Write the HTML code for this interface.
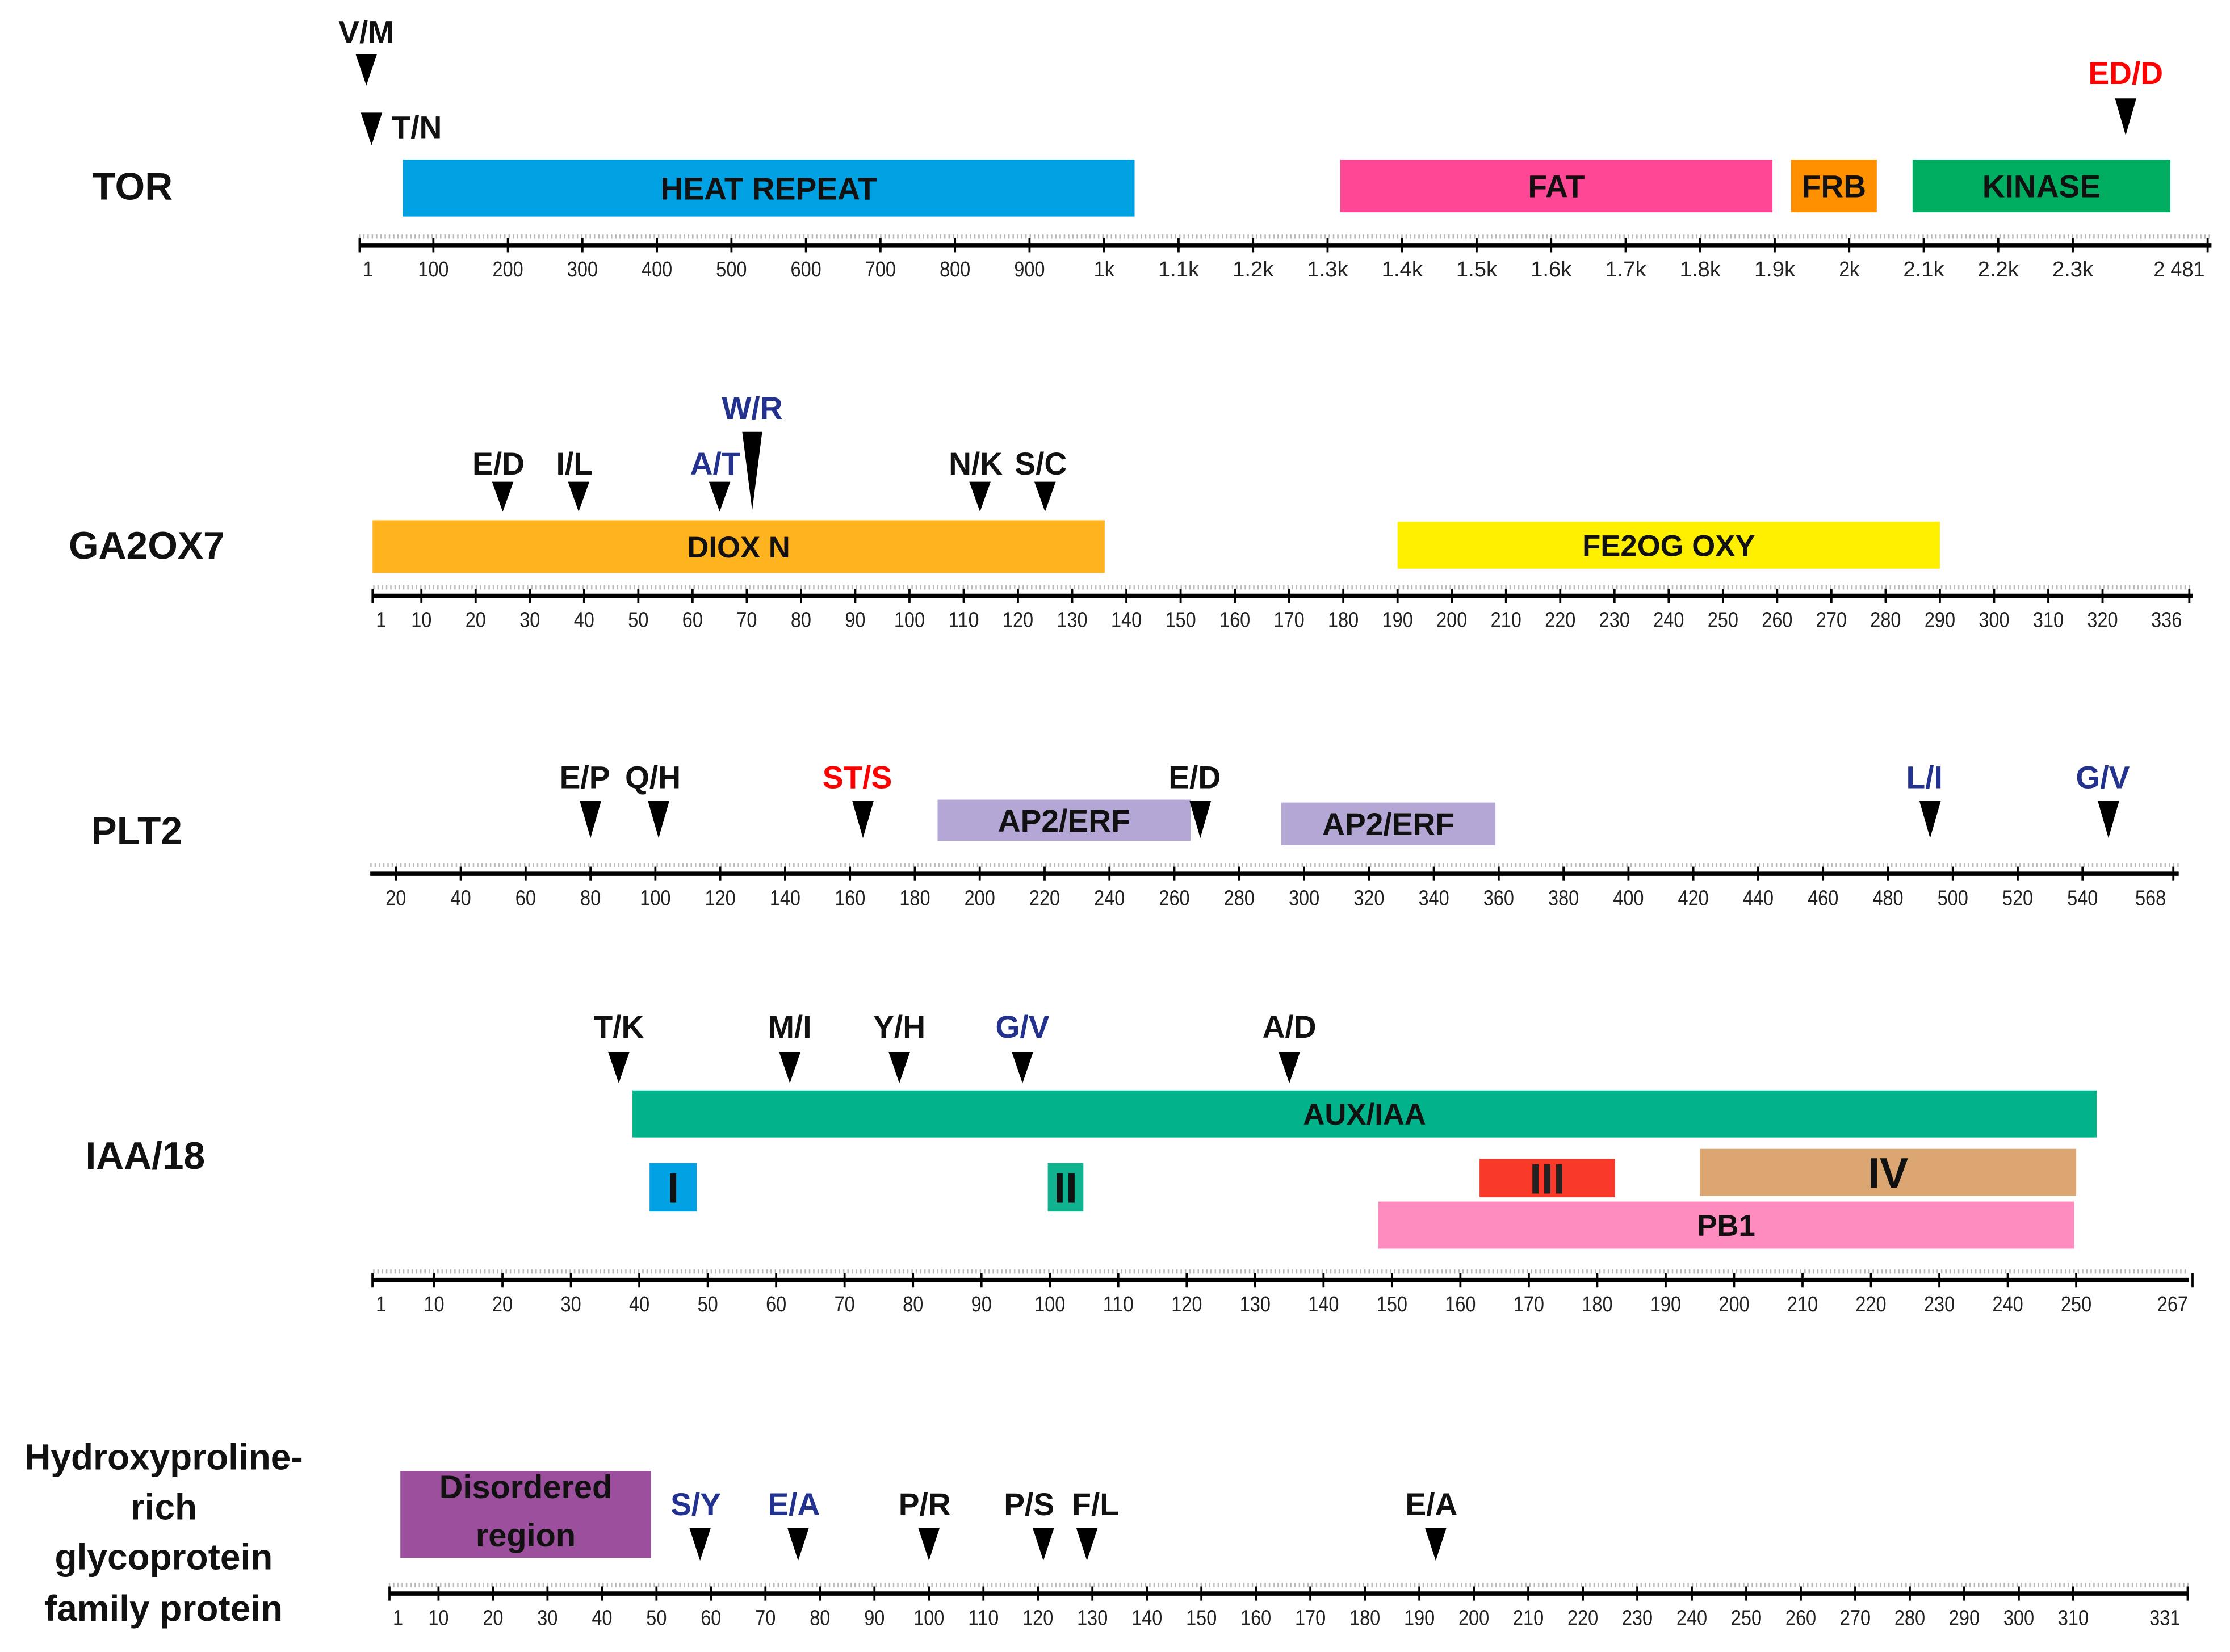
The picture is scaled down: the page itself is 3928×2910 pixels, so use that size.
<!DOCTYPE html>
<html><head><meta charset="utf-8"><style>
html,body{margin:0;padding:0;background:#fff}
svg{display:block}
text{font-family:"Liberation Sans",sans-serif}
</style></head><body>
<svg id="chart" width="3928" height="2910" viewBox="0 0 1566 1159" preserveAspectRatio="none" xmlns="http://www.w3.org/2000/svg">
<rect width="1566" height="1159" fill="#fff"/>
<g id="labels" font-weight="bold" font-size="27" fill="#111" text-anchor="middle">
<text x="93" y="140">TOR</text>
<text x="103" y="392">GA2OX7</text>
<text x="96" y="592">PLT2</text>
<text x="102" y="820">IAA/18</text>
<g font-size="25.5">
<text x="115" y="1031">Hydroxyproline-</text>
<text x="115" y="1066">rich</text>
<text x="115" y="1101">glycoprotein</text>
<text x="115" y="1137">family protein</text>
</g>
</g>
</svg>
<script>
// ---- data ----
const torTicks=[1,100,200,300,400,500,600,700,800,900,1000,1100,1200,1300,1400,1500,1600,1700,1800,1900,2000,2100,2200,2300,2481];
const torTickLabels=["1","100","200","300","400","500","600","700","800","900","1k","1.1k","1.2k","1.3k","1.4k","1.5k","1.6k","1.7k","1.8k","1.9k","2k","2.1k","2.2k","2.3k","2 481"];
const torDomainNames=["HEAT REPEAT","FAT","FRB","KINASE"];
const torDomainStart=[59,1317,1922,2085];
const torDomainEnd=[1041,1897,2037,2431];
const torMutNames=["V/M","T/N","ED/D"];
const torMutPos=[10,17,2371];

const gaTicks=[1,10,20,30,40,50,60,70,80,90,100,110,120,130,140,150,160,170,180,190,200,210,220,230,240,250,260,270,280,290,300,310,320,336];
const gaDomainNames=["DIOX N","FE2OG OXY"];
const gaDomainStart=[1,190];
const gaDomainEnd=[136,290];
const gaMutNames=["E/D","I/L","A/T","W/R","N/K","S/C"];
const gaMutPos=[25,39,65,71,113,125];

const pltTicks=[20,40,60,80,100,120,140,160,180,200,220,240,260,280,300,320,340,360,380,400,420,440,460,480,500,520,540,568];
const pltDomainNames=["AP2/ERF","AP2/ERF"];
const pltDomainStart=[187,293];
const pltDomainEnd=[265,359];
const pltMutNames=["E/P","Q/H","ST/S","E/D","L/I","G/V"];
const pltMutPos=[80,101,164,268,493,548];

const iaaTicks=[1,10,20,30,40,50,60,70,80,90,100,110,120,130,140,150,160,170,180,190,200,210,220,230,240,250,267];
const iaaDomainNames=["AUX/IAA","I","II","III","IV","PB1"];
const iaaDomainStart=[39,41.5,99.7,162.8,195,148];
const iaaDomainEnd=[253,48.4,104.9,182.6,250,249.7];
const iaaMutNames=["T/K","M/I","Y/H","G/V","A/D"];
const iaaMutPos=[37,62,78,96,135];

const hrTicks=[1,10,20,30,40,50,60,70,80,90,100,110,120,130,140,150,160,170,180,190,200,210,220,230,240,250,260,270,280,290,300,310,331];
const hrDomainNames=["Disordered region"];
const hrDomainStart=[3];
const hrDomainEnd=[49];
const hrMutNames=["S/Y","E/A","P/R","P/S","F/L","E/A"];
const hrMutPos=[58,76,100,121,129,193];

// ---- layout (styles / geometry) ----
const NS="http://www.w3.org/2000/svg";
const svg=document.getElementById('chart');
function el(tag,attrs,parent){const e=document.createElementNS(NS,tag);for(const k in attrs)e.setAttribute(k,attrs[k]);(parent||svg).appendChild(e);return e;}
function lin(d0,d1,r0,r1){return v=>r0+(v-d0)*(r1-r0)/(d1-d0);}

function drawAxis(g,x,ticks,labels,y,x0,x1,lastShift){
  const line=el('line',{x1:x0,x2:x1,y1:y,y2:y,stroke:'#000','stroke-width':3},g);
  
  
  const dots=el('line',{x1:x0,x2:x1,y1:y-6,y2:y-6,stroke:'#bbb','stroke-width':3,'stroke-dasharray':'1 2'},g);
  
  
  ticks.forEach((t,i)=>{
    const px=x(t);
    el('line',{x1:px,x2:px,y1:y-5,y2:y+5,stroke:'#000','stroke-width':1.5},g);
    const last=i===ticks.length-1;
    const tx=el('text',{x:last?px-lastShift:px+(t===1?6:0),y:y+22,'font-size':15,'text-anchor':'middle',fill:'#222',textLength:(labels?labels[i]:String(t)).length*7.2,lengthAdjust:'spacingAndGlyphs'},g);
    tx.textContent=labels?labels[i]:String(t);
    
    
  });
}
function drawDomain(g,x,s,e,y0,y1,fill,name,fs,tcol){
  const r=el('rect',{x:x(s),y:y0,width:x(e)-x(s),height:y1-y0,fill:fill},g);
  
  
  if(name.indexOf('\n')>=0){
    name.split('\n').forEach((ln,i)=>{const t=el('text',{x:(x(s)+x(e))/2,y:y0+19+i*34,'font-size':fs,'font-weight':'bold','text-anchor':'middle',fill:tcol||'#111'},g);t.textContent=ln;});
  } else {
    const t=el('text',{x:(x(s)+x(e))/2,y:(y0+y1)/2+fs*0.36,'font-size':fs,'font-weight':'bold','text-anchor':'middle',fill:tcol||'#111'},g);
    t.textContent=name;
    
    
  }
}
function drawMut(g,x,pos,name,ay0,ay1,ly,col,lx,anchor,w){
  const px=x(pos);const hw=(w||15)/2;
  const p=el('polygon',{points:`${px-hw},${ay0} ${px+hw},${ay0} ${px},${ay1}`,fill:'#000'},g);
  
  
  const t=el('text',{x:lx!==undefined?lx:px,y:ly,'font-size':22,'font-weight':'bold','text-anchor':anchor||'middle',fill:col||'#111'},g);
  t.textContent=name;
  
  
}
const BLUE='#23318f',RED='#ff0000';

// TOR
{const g=el('g',{});
 const x=lin(0,2481,252,1550.3);
 drawAxis(g,x,torTicks,torTickLabels,172,252,1553,20);
 const cols=['#00a2e4','#ff4895','#ff9100','#00ae62'];
 const ys=[[112,152],[112,149],[112,149],[112,149]];
 torDomainNames.forEach((n,i)=>drawDomain(g,x,torDomainStart[i],torDomainEnd[i],ys[i][0],ys[i][1],cols[i],n,22));
 drawMut(g,x,torMutPos[0],torMutNames[0],38,60,30,'#111');
 drawMut(g,x,torMutPos[1],torMutNames[1],79,102,97,'#111',x(torMutPos[1])+14,'start');
 drawMut(g,x,torMutPos[2],torMutNames[2],69,95,59,RED);
}
// GA2OX7
{const g=el('g',{});
 const x=lin(20,140,334,791);
 drawAxis(g,x,gaTicks,null,418,262,1540,16);
 drawDomain(g,x,gaDomainStart[0],gaDomainEnd[0],365,402,'#ffb31f',gaDomainNames[0],21);
 drawDomain(g,x,gaDomainStart[1],gaDomainEnd[1],366,399,'#fff000',gaDomainNames[1],21);
 gaMutNames.forEach((n,i)=>{
   const col=(n==='A/T'||n==='W/R')?BLUE:'#111';
   if(n==='W/R') drawMut(g,x,gaMutPos[i],n,303,358,294,col,undefined,undefined,14);
   else drawMut(g,x,gaMutPos[i],n,338,359,333,col,x(gaMutPos[i])-3);
 });
}
// PLT2
{const g=el('g',{});
 const x=lin(20,200,278,688);
 drawAxis(g,x,pltTicks,null,613,260,1530,16);
 pltDomainNames.forEach((n,i)=>drawDomain(g,x,pltDomainStart[i],pltDomainEnd[i],561+i*2,590+i*3,'#b4a7d6',n,22));
 pltMutNames.forEach((n,i)=>{
   const col=(n==='ST/S')?RED:(n==='L/I'||n==='G/V')?BLUE:'#111';
   drawMut(g,x,pltMutPos[i],n,562,588,553,col,x(pltMutPos[i])-4);
 });
}
// IAA/18
{const g=el('g',{});
 const x=lin(50,250,497,1458);
 drawAxis(g,x,iaaTicks,null,898,262,1537,14);
 const cols=['#00b38a','#00a2e4','#10b28f','#f93a2a','#dca672','#ff8cbf'];
 const ys=[[765,798],[816,850],[816,850],[813,840],[806,839],[843,876]];
 const fs=[21,30,30,30,30,21];
 iaaDomainNames.forEach((n,i)=>drawDomain(g,x,iaaDomainStart[i],iaaDomainEnd[i],ys[i][0],ys[i][1],cols[i],n,fs[i],(n==='III')?'#222':'#111'));
 iaaMutNames.forEach((n,i)=>drawMut(g,x,iaaMutPos[i],n,738,760,728,n==='G/V'?BLUE:'#111'));
}
// HRGP
{const g=el('g',{});
 const x=lin(50,200,461,1035);
 drawAxis(g,x,hrTicks,null,1118,273,1537,16);
 drawDomain(g,x,hrDomainStart[0],hrDomainEnd[0],1032,1093,'#9b4f9c','Disordered\nregion',23,'#111');
 hrMutNames.forEach((n,i)=>{
   const col=(n==='S/Y'||(n==='E/A'&&i===1))?BLUE:'#111';
   const off=n==='P/S'?-10:(n==='F/L'?6:-3);
   drawMut(g,x,hrMutPos[i],n,1072,1095,1063,col,x(hrMutPos[i])+off);
 });
}
</script>
</body></html>
